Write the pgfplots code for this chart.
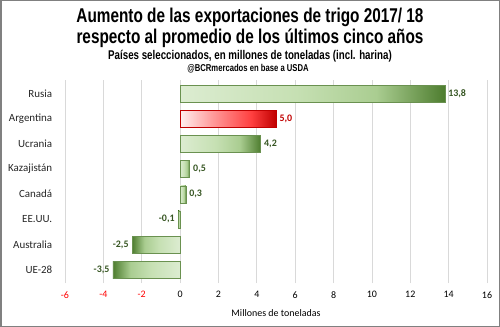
\documentclass[border=0pt]{standalone}
\usepackage{pgfplots}
\pgfplotsset{compat=1.18}
\usepackage{fontspec}
\setmainfont{Carlito}
\newfontfamily\condfont[FakeStretch=0.77]{Liberation Sans}
\definecolor{gA}{HTML}{DCECD1}
\definecolor{gB}{HTML}{C6E0B3}
\definecolor{gC}{HTML}{AACD91}
\definecolor{gD}{HTML}{4E7D2F}
\definecolor{gEdge}{HTML}{6A9150}
\definecolor{gLab}{HTML}{375623}
\definecolor{rA}{HTML}{FFF0F0}
\definecolor{rB}{HTML}{FF9A9A}
\definecolor{rC}{HTML}{FF4040}
\definecolor{rD}{HTML}{C00000}
\definecolor{gridgray}{HTML}{D9D9D9}
\definecolor{framegray}{HTML}{808080}
\definecolor{ticklab}{HTML}{262626}
\pgfdeclarehorizontalshading{greenpos}{100bp}{color(0bp)=(gA); color(25bp)=(gA); color(47bp)=(gB); color(62bp)=(gC); color(75bp)=(gD); color(100bp)=(gD)}
\pgfdeclarehorizontalshading{greenneg}{100bp}{color(0bp)=(gD); color(25bp)=(gD); color(38bp)=(gC); color(53bp)=(gB); color(75bp)=(gA); color(100bp)=(gA)}
\pgfdeclarehorizontalshading{redpos}{100bp}{color(0bp)=(rA); color(25bp)=(rA); color(42bp)=(rB); color(62bp)=(rC); color(75bp)=(rD); color(100bp)=(rD)}
\pgfplotsset{
  posbar/.style={draw=gEdge, shading=greenpos, nodes near coords style={anchor=west}},
  negbar/.style={draw=gEdge, shading=greenneg, nodes near coords style={anchor=east}},
}
\begin{document}
\begin{tikzpicture}
\useasboundingbox (0,0) rectangle (500bp,327bp);
\draw[framegray, line width=1.5bp] (0.75bp,0.75bp) rectangle (499.25bp,326.25bp);
\node[font=\condfont\bfseries\fontsize{20}{22}\selectfont] at (250bp,310bp) {Aumento de las exportaciones de trigo 2017/ 18};
\node[font=\condfont\bfseries\fontsize{20}{22}\selectfont] at (250bp,289bp) {respecto al promedio de los últimos cinco años};
\node[font=\condfont\bfseries\fontsize{12.7}{15}\selectfont] at (250bp,271bp) {Países seleccionados, en millones de toneladas (incl. harina)};
\node[font=\condfont\bfseries\fontsize{10}{11}\selectfont] at (248bp,258bp) {@BCRmercados en base a USDA};
\begin{axis}[
  at={(65bp,44bp)}, anchor=south west, scale only axis,
  width=422bp, height=203bp,
  xmin=-6, xmax=16, ymin=-0.53, ymax=7.54,
  xbar, bar width=17bp, bar shift=0pt,
  axis line style={draw=none}, tick style={draw=none},
  xmajorgrids, grid style={color=gridgray, line width=0.8bp},
  ytick={0,...,7},
  yticklabels={UE-28,Australia,EE.UU.,Canadá,Kazajistán,Ucrania,Argentina,Rusia},
  xtick={-6,-4,...,16},
  xticklabels={\textcolor{red}{-6},\textcolor{red}{-4},\textcolor{red}{-2},0,2,4,6,8,10,12,14,16},
  xticklabel style={font=\fontsize{10}{12}\selectfont, text=black, yshift=-5bp},
  yticklabel style={font=\fontsize{11}{12}\selectfont, text=ticklab, xshift=-5bp},
  xlabel={Millones de toneladas},
  xlabel style={font=\fontsize{10}{12}\selectfont, yshift=-4bp},
  point meta=x,
  nodes near coords={\pgfmathprintnumber[fixed,fixed zerofill,precision=1,use comma,assume math mode=true]{\pgfplotspointmeta}},
  nodes near coords style={font=\bfseries\fontsize{10}{12}\selectfont, text=gLab},
]
\addplot[posbar] coordinates {(13.8,7)};
\addplot[draw=rD, shading=redpos, nodes near coords style={anchor=west, text=rD}] coordinates {(5.0,6)};
\addplot[posbar] coordinates {(4.2,5)};
\addplot[posbar] coordinates {(0.5,4)};
\addplot[posbar] coordinates {(0.3,3)};
\addplot[negbar] coordinates {(-0.1,2)};
\addplot[negbar] coordinates {(-2.5,1)};
\addplot[negbar] coordinates {(-3.5,0)};
\end{axis}
\end{tikzpicture}
\end{document}
